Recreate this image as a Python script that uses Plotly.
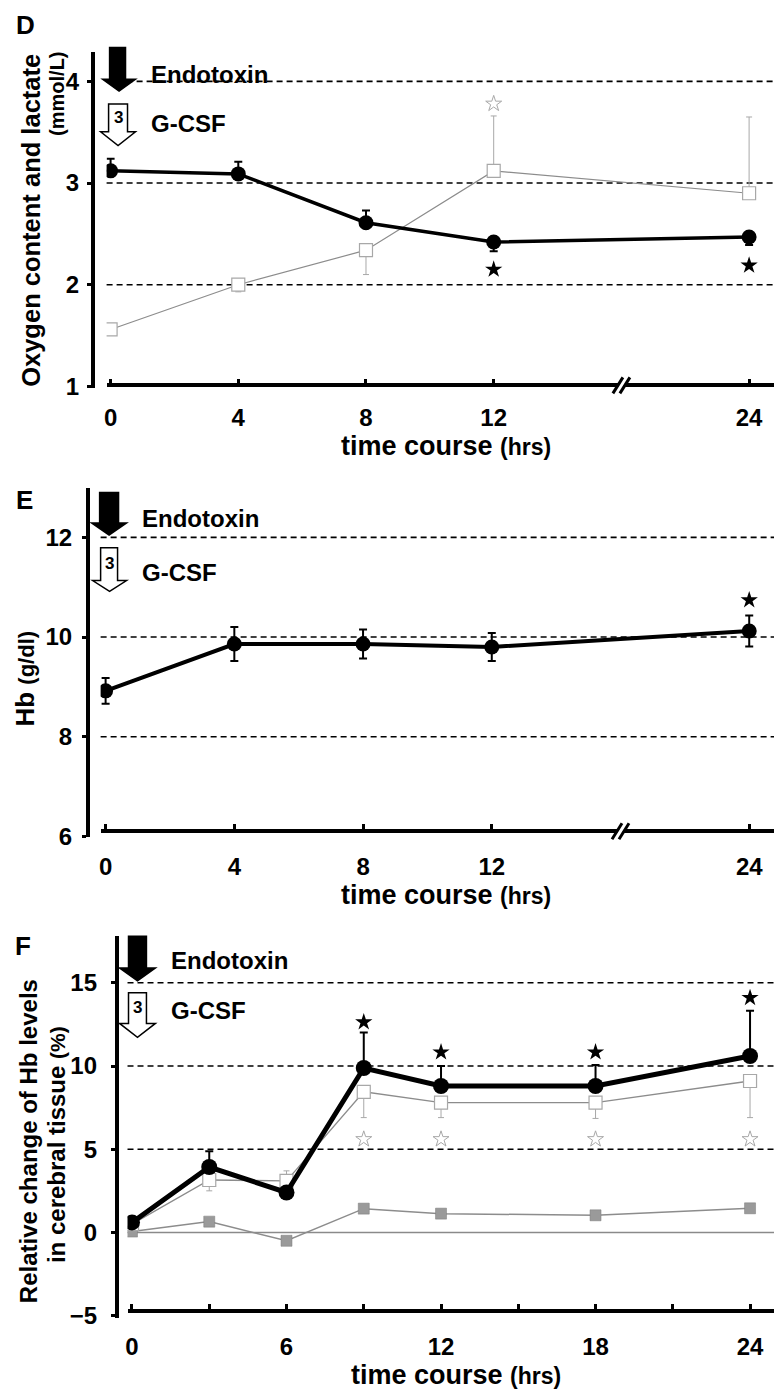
import plotly.graph_objects as go

W, H = 774, 1399
FONT = "Liberation Sans, Arial, Helvetica, sans-serif"

# ---------------- data ----------------
# Panel D (oxygen content & lactate, mmol/L)
D_hours = [0, 4, 8, 12, 24]
D_tick_hours = [0, 4, 8, 12, 24]
D_oxygen = [3.12, 3.09, 2.61, 2.42, 2.47]
D_oxygen_err_up = [0.12, 0.12, 0.12, 0.0, 0.0]
D_oxygen_err_down = [0.0, 0.0, 0.0, 0.09, 0.08]
D_lactate = [1.56, 2.00, 2.34, 3.12, 2.90]
D_lactate_err_up = [0.0, 0.0, 0.0, 0.54, 0.75]
D_lactate_err_down = [0.02, 0.07, 0.24, 0.0, 0.0]
D_sig_oxygen_hours = [12, 24]
D_sig_oxygen_y = [2.15, 2.19]
D_sig_lactate_hours = [12]
D_sig_lactate_y = [3.78]
D_grid = [2, 3, 4]
D_yticks = [1, 2, 3, 4]

# Panel E (Hb g/dl)
E_hours = [0, 4, 8, 12, 24]
E_tick_hours = [0, 4, 8, 12, 24]
E_hb = [8.92, 9.86, 9.86, 9.80, 10.12]
E_hb_err = [0.26, 0.34, 0.29, 0.28, 0.31]
E_sig_hours = [24]
E_sig_y = [10.74]
E_grid = [8, 10, 12]
E_yticks = [6, 8, 10, 12]

# Panel F (relative change of Hb levels in cerebral tissue, %)
F_hours = [0, 3, 6, 9, 12, 18, 24]
F_filled = [0.6, 3.93, 2.4, 9.88, 8.8, 8.8, 10.6]
F_filled_err_up = [0.0, 0.95, 0.0, 2.14, 1.2, 1.26, 2.72]
F_open = [0.5, 3.15, 3.1, 8.45, 7.8, 7.8, 9.1]
F_open_err_up = [0.0, 0.0, 0.6, 0.0, 0.0, 0.0, 0.0]
F_open_err_down = [0.0, 0.65, 0.0, 1.55, 0.9, 0.95, 2.2]
F_gray = [0.05, 0.65, -0.5, 1.43, 1.13, 1.03, 1.45]
F_sig_filled_hours = [9, 12, 18, 24]
F_sig_filled_y = [12.64, 10.83, 10.83, 14.1]
F_sig_open_hours = [9, 12, 18, 24]
F_sig_open_y = [5.6, 5.6, 5.6, 5.6]
F_grid = [5, 10, 15]
F_yticks = [-5, 0, 5, 10, 15]
F_tickvals = [0, 3, 6, 9, 12, 15, 18, 21, 24]
F_ticktext = ["0", "", "6", "", "12", "", "18", "", "24"]

BREAK_HOUR = 18  # where the "//" axis-break mark sits (panels D, E)


def break_pos(h):
    """Broken time axis: 12 -> 24 h is compressed into 8 units."""
    return h if h <= 12 else 12 + (h - 12) * 8.0 / 12.0


def px(x):
    return x / W


def py(y):
    return 1 - y / H


fig = go.Figure()

BLACK = "#000000"
GRAY_LINE = "#8c8c8c"
GRAY_OPEN = "#a8a8a8"

# ---------------- Panel D ----------------
dx = [break_pos(h) for h in D_hours]
fig.add_trace(go.Scatter(
    x=dx, y=D_lactate, xaxis="x", yaxis="y", mode="lines+markers",
    line=dict(color=GRAY_LINE, width=1.2),
    marker=dict(symbol="square", size=13, color="white",
                line=dict(color=GRAY_OPEN, width=1.2)),
    error_y=dict(type="data", symmetric=False, array=D_lactate_err_up,
                 arrayminus=D_lactate_err_down, color=GRAY_OPEN,
                 thickness=1, width=3),
))
fig.add_trace(go.Scatter(
    x=dx, y=D_oxygen, xaxis="x", yaxis="y", mode="lines+markers",
    line=dict(color=BLACK, width=3.5),
    marker=dict(symbol="circle", size=15, color=BLACK),
    error_y=dict(type="data", symmetric=False, array=D_oxygen_err_up,
                 arrayminus=D_oxygen_err_down, color=BLACK,
                 thickness=2, width=4),
))
fig.add_trace(go.Scatter(
    x=[break_pos(h) for h in D_sig_oxygen_hours], y=D_sig_oxygen_y,
    xaxis="x", yaxis="y", mode="markers",
    marker=dict(symbol="star", size=13, color=BLACK, line=dict(width=0)),
))
fig.add_trace(go.Scatter(
    x=[break_pos(h) for h in D_sig_lactate_hours], y=D_sig_lactate_y,
    xaxis="x", yaxis="y", mode="markers",
    marker=dict(symbol="star-open", size=12, color=GRAY_OPEN,
                line=dict(width=1, color=GRAY_OPEN)),
))

# ---------------- Panel E ----------------
ex = [break_pos(h) for h in E_hours]
fig.add_trace(go.Scatter(
    x=ex, y=E_hb, xaxis="x2", yaxis="y2", mode="lines+markers",
    line=dict(color=BLACK, width=4),
    marker=dict(symbol="circle", size=15, color=BLACK),
    error_y=dict(type="data", array=E_hb_err, color=BLACK,
                 thickness=2, width=4),
))
fig.add_trace(go.Scatter(
    x=[break_pos(h) for h in E_sig_hours], y=E_sig_y,
    xaxis="x2", yaxis="y2", mode="markers",
    marker=dict(symbol="star", size=13, color=BLACK, line=dict(width=0)),
))

# ---------------- Panel F ----------------
fig.add_trace(go.Scatter(
    x=F_hours, y=F_gray, xaxis="x3", yaxis="y3", mode="lines+markers",
    line=dict(color=GRAY_LINE, width=1.5),
    marker=dict(symbol="square", size=11, color="#9a9a9a",
                line=dict(color="#7a7a7a", width=0.5)),
))
fig.add_trace(go.Scatter(
    x=F_hours, y=F_open, xaxis="x3", yaxis="y3", mode="lines+markers",
    line=dict(color=GRAY_LINE, width=1.3),
    marker=dict(symbol="square", size=13, color="white",
                line=dict(color=GRAY_OPEN, width=1.2)),
    error_y=dict(type="data", symmetric=False, array=F_open_err_up,
                 arrayminus=F_open_err_down, color=GRAY_OPEN,
                 thickness=1, width=3),
))
fig.add_trace(go.Scatter(
    x=F_hours, y=F_filled, xaxis="x3", yaxis="y3", mode="lines+markers",
    line=dict(color=BLACK, width=5),
    marker=dict(symbol="circle", size=16, color=BLACK),
    error_y=dict(type="data", symmetric=False, array=F_filled_err_up,
                 arrayminus=[0] * len(F_hours), color=BLACK,
                 thickness=2, width=4),
))
fig.add_trace(go.Scatter(
    x=F_sig_filled_hours, y=F_sig_filled_y, xaxis="x3", yaxis="y3",
    mode="markers",
    marker=dict(symbol="star", size=13, color=BLACK, line=dict(width=0)),
))
fig.add_trace(go.Scatter(
    x=F_sig_open_hours, y=F_sig_open_y, xaxis="x3", yaxis="y3",
    mode="markers",
    marker=dict(symbol="star-open", size=12, color=GRAY_OPEN,
                line=dict(width=1, color=GRAY_OPEN)),
))

# ---------------- axes ----------------
tickfont = dict(family=FONT, size=24, color=BLACK, weight="bold")


def xaxis_cfg(dom_left, rng, tickvals, ticktext, pos_px, standoff):
    return dict(domain=[px(dom_left), 1.0], range=rng, anchor="free",
                position=py(pos_px), tickmode="array", tickvals=tickvals,
                ticktext=ticktext, showline=True, linewidth=3.5,
                linecolor=BLACK, ticks="inside", ticklen=5, tickwidth=3,
                tickcolor=BLACK, showgrid=False, zeroline=False,
                tickfont=tickfont, ticklabelstandoff=standoff,
                fixedrange=True)


def yaxis_cfg(dom_bot, dom_top, rng, tickvals, pos_px, standoff):
    return dict(domain=[py(dom_bot), py(dom_top)], range=rng, anchor="free",
                position=px(pos_px), tickmode="array", tickvals=tickvals,
                showline=True, linewidth=3.5, linecolor=BLACK,
                ticks="outside", ticklen=4, tickwidth=3, tickcolor=BLACK,
                showgrid=False, zeroline=False, tickfont=tickfont,
                ticklabelstandoff=standoff, fixedrange=True)


fig.update_layout(
    xaxis=xaxis_cfg(104, [-0.125, 20.78], [break_pos(h) for h in D_tick_hours],
                    [str(h) for h in D_tick_hours], 389, 10),
    yaxis=yaxis_cfg(392, 52, [0.9805, 4.294], D_yticks, 90, 3),
    xaxis2=xaxis_cfg(98, [-0.155, 20.77], [break_pos(h) for h in E_tick_hours],
                     [str(h) for h in E_tick_hours], 839, 13),
    yaxis2=yaxis_cfg(845, 493, [5.984, 12.982], E_yticks, 85, 5),
    xaxis3=xaxis_cfg(125, [-0.174, 24.93], F_tickvals, F_ticktext, 1323, 14),
    yaxis3=yaxis_cfg(1330, 945, [-5.119, 17.798], F_yticks, 114, 9),
)

# ---------------- grid lines (dashed) and zero line ----------------
shapes = []
for ax_x, ax_y, grid in (("x", "y", D_grid), ("x2", "y2", E_grid),
                         ("x3", "y3", F_grid)):
    for g in grid:
        shapes.append(dict(type="line", xref=ax_x + " domain", yref=ax_y,
                           x0=0, x1=1, y0=g, y1=g, layer="below",
                           line=dict(color=BLACK, width=1.6, dash="6px,4px")))
shapes.append(dict(type="line", xref="x3 domain", yref="y3", x0=0, x1=1,
                   y0=0, y1=0, layer="below",
                   line=dict(color="#8a8a8a", width=1.6)))

# axis-break marks "//" on the time axes of D and E
for xa, ypx in (("x", 389), ("x2", 839)):
    xb = break_pos(BREAK_HOUR)
    common = dict(xref=xa, yref="paper", xsizemode="pixel", ysizemode="pixel",
                  xanchor=xb, yanchor=py(ypx), layer="above")
    shapes.append(dict(type="line", x0=-5, x1=5, y0=-8, y1=8,
                       line=dict(color="white", width=4), **common))
    for off in (-3.5, 3.5):
        shapes.append(dict(type="line", x0=-5 + off, x1=5 + off, y0=-8, y1=8,
                           line=dict(color=BLACK, width=3), **common))


# ---------------- arrows (decorations) ----------------
def arrow_path(sl, sr, top, hs, hl, hr, tip):
    cx = (hl + hr) / 2.0
    pts = [(sl, top), (sr, top), (sr, hs), (hr, hs), (cx, tip), (hl, hs),
           (sl, hs)]
    return "M " + " L ".join(f"{px(a):.5f},{py(b):.5f}" for a, b in pts) + " Z"


arrows = [
    # black (endotoxin) arrows
    (dict(sl=107, sr=123, top=48, hs=80, hl=100, hr=133, tip=92), True),
    (dict(sl=97, sr=116, top=497, hs=528, hl=89, hr=124, tip=540), True),
    (dict(sl=126, sr=144, top=945, hs=977, hl=117, hr=153, tip=990), True),
    # hollow (G-CSF) arrows
    (dict(sl=106, sr=125, top=105, hs=133, hl=98, hr=133, tip=147), False),
    (dict(sl=98, sr=115, top=553, hs=586, hl=90, hr=124, tip=597), False),
    (dict(sl=126, sr=144, top=1002, hs=1033, hl=117, hr=153, tip=1047), False),
]
for a, filled in arrows:
    shapes.append(dict(type="path", xref="paper", yref="paper",
                       path=arrow_path(**a), layer="above",
                       fillcolor=BLACK if filled else "white",
                       line=dict(color=BLACK, width=1.5)))

fig.update_layout(shapes=shapes)

# ---------------- text ----------------
ann = []


def txt(text, x, y, size, xanchor="center", angle=0, color=BLACK):
    ann.append(dict(text=text, x=px(x), y=py(y), xref="paper", yref="paper",
                    xanchor=xanchor, yanchor="middle", showarrow=False,
                    textangle=angle,
                    font=dict(family=FONT, size=size, color=color)))


# panel letters
txt("<b>D</b>", 23, 25, 26)
txt("<b>E</b>", 22, 505, 26)
txt("<b>F</b>", 20, 955, 26)

# treatment labels
for (xe, ye, xg, yg) in ((147, 75, 147, 125), (138, 523, 138, 578),
                         (167, 970, 167, 1020)):
    txt("<b>Endotoxin</b>", xe, ye, 24, xanchor="left")
    txt("<b>G-CSF</b>", xg, yg, 24, xanchor="left")
for (x3, y3) in ((115.5, 119), (106.5, 569), (135, 1017)):
    txt("<b>3</b>", x3, y3, 17)

# y-axis titles
txt("<b>Oxygen content and lactate</b>", 28, 222, 25.5, angle=-90)
txt("<b>(mmol/L)</b>", 54, 95, 20, angle=-90)
txt("<b>Hb <span style='font-size:22px'>(g/dl)</span></b>", 22, 685, 26,
    angle=-90)
txt("<b>Relative change of Hb levels</b>", 25, 1152, 24, angle=-90)
txt("<b>in cerebral tissue <span style='font-size:21px'>(%)</span></b>",
    53, 1155, 24, angle=-90)

# x-axis titles
for (xc, yc) in ((445, 450), (445, 903), (455, 1388)):
    txt("<b>time course <span style='font-size:23px'>(hrs)</span></b>",
        xc, yc, 27)

fig.update_layout(
    annotations=ann,
    width=W, height=H,
    margin=dict(l=0, r=0, t=0, b=0),
    paper_bgcolor="white", plot_bgcolor="white",
    showlegend=False,
    font=dict(family=FONT, color=BLACK),
)

fig.write_html("out.html")
